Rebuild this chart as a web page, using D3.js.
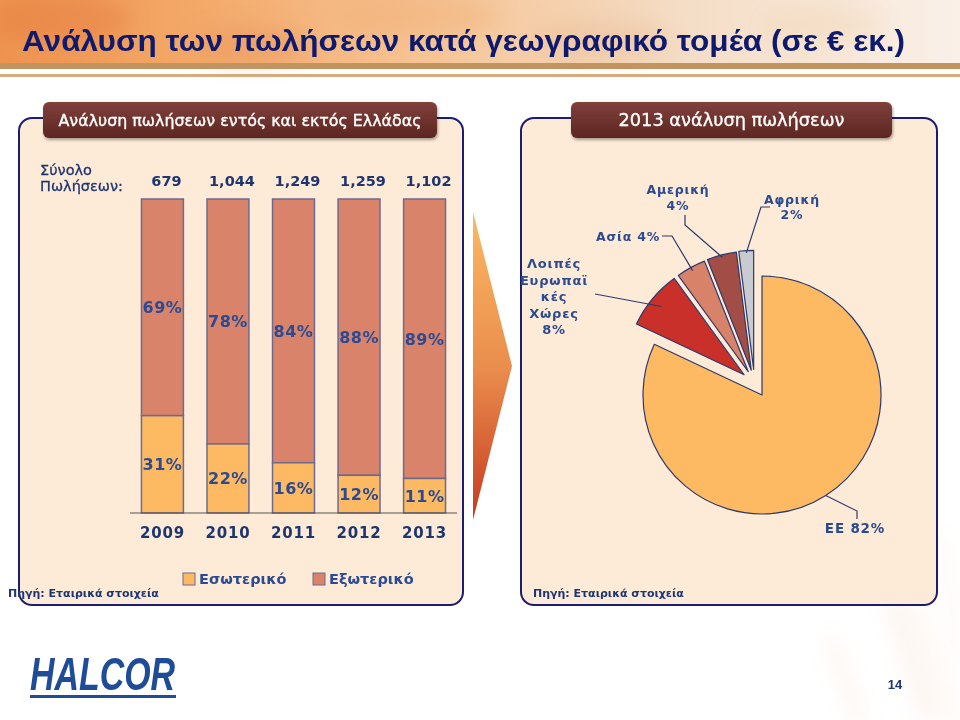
<!DOCTYPE html>
<html><head><meta charset="utf-8">
<script src="https://cdn.jsdelivr.net/npm/d3@7"></script>
<style>html,body{margin:0;padding:0;background:#fff;}svg{display:block;}</style>
</head><body>
<svg id="c" width="960" height="720"></svg>
<script>
// ---- data ----
const years = ["2009", "2010", "2011", "2012", "2013"];
const totals = [679, 1044, 1249, 1259, 1102];
const domestic = [31, 22, 16, 12, 11];
const exportsShare = [69, 78, 84, 88, 89];
const seriesNames = ["Εσωτερικό", "Εξωτερικό"];
const pieNames = ["ΕΕ", "Λοιπές Ευρωπαϊκές Χώρες", "Ασία", "Αμερική", "Αφρική"];
const pieValues = [82, 8, 4, 4, 2];

const svg = d3.select("#c");
const defs = svg.append("defs");
const navy = "#2B4A92";
const dark = "#1E3570";

// ---- background ----
const bg = defs.append("linearGradient").attr("id", "ban").attr("x1", 0).attr("x2", 1).attr("y1", 0).attr("y2", 0);
[[0, "#EE9450"], [0.2, "#F3A868"], [0.45, "#F6C596"], [0.7, "#F4DCC4"], [1, "#FAF0E8"]]
  .forEach(s => bg.append("stop").attr("offset", s[0]).attr("stop-color", s[1]));
svg.append("rect").attr("x", 0).attr("y", 0).attr("width", 960).attr("height", 66).attr("fill", "url(#ban)");
const blur = defs.append("filter").attr("id", "bl").attr("x", "-50%").attr("y", "-50%").attr("width", "200%").attr("height", "200%");
blur.append("feGaussianBlur").attr("stdDeviation", 10);
const blobs = [[60, 20, 70, 25, "#E88040", 0.5], [250, 45, 60, 18, "#E8905A", 0.4], [420, 15, 80, 20, "#F0A870", 0.35], [600, 40, 70, 20, "#E8B890", 0.35], [820, 25, 60, 20, "#F0D0B0", 0.35]];
svg.append("g").attr("filter", "url(#bl)").selectAll("ellipse").data(blobs).join("ellipse")
  .attr("cx", d => d[0]).attr("cy", d => d[1]).attr("rx", d => d[2]).attr("ry", d => d[3])
  .attr("fill", d => d[4]).attr("opacity", d => d[5]);
svg.append("rect").attr("x", 0).attr("y", 63).attr("width", 960).attr("height", 6).attr("fill", "#C29460");
svg.append("rect").attr("x", 0).attr("y", 74).attr("width", 960).attr("height", 3).attr("fill", "#D6AC7C");
// faint streaks bottom right
const streaks = [[880, 560, 930, 720, 12], [915, 600, 955, 720, 7], [940, 540, 960, 660, 5], [830, 640, 860, 720, 8]];
svg.append("g").attr("filter", "url(#bl)").selectAll("line").data(streaks).join("line")
  .attr("x1", d => d[0]).attr("y1", d => d[1]).attr("x2", d => d[2]).attr("y2", d => d[3])
  .attr("stroke", "#F2C0A0").attr("stroke-width", d => d[4]).attr("opacity", 0.25);

// title
svg.append("text").attr("x", 22).attr("y", 51)
  .attr("font-family", "Liberation Sans, Arial, sans-serif").attr("font-weight", "bold").attr("font-size", 29.5)
  .attr("fill", "#0E1A6E").attr("textLength", 883).attr("lengthAdjust", "spacingAndGlyphs")
  .text("Ανάλυση των πωλήσεων κατά γεωγραφικό τομέα (σε € εκ.)");

// ---- panels ----
const hg = defs.append("linearGradient").attr("id", "hdr").attr("x1", 0).attr("x2", 0).attr("y1", 0).attr("y2", 1);
hg.append("stop").attr("offset", 0).attr("stop-color", "#80403A");
hg.append("stop").attr("offset", 1).attr("stop-color", "#5C2622");
const sh = defs.append("filter").attr("id", "sh").attr("x", "-10%").attr("y", "-20%").attr("width", "120%").attr("height", "160%");
sh.append("feDropShadow").attr("dx", 1).attr("dy", 2).attr("stdDeviation", 1.5).attr("flood-color", "#000").attr("flood-opacity", 0.35);

function panel(x, y, w, h, hx, hw, title, fs, tl) {
  svg.append("rect").attr("x", x).attr("y", y).attr("width", w).attr("height", h).attr("rx", 13)
    .attr("fill", "#FDEBD7").attr("stroke", "#1C1C70").attr("stroke-width", 2);
  svg.append("rect").attr("x", hx).attr("y", 102).attr("width", hw).attr("height", 36).attr("rx", 6)
    .attr("fill", "url(#hdr)").attr("filter", "url(#sh)");
  svg.append("text").attr("x", hx + hw / 2).attr("y", 126).attr("text-anchor", "middle")
    .attr("font-family", "DejaVu Sans, Verdana, sans-serif").attr("font-size", fs).attr("fill", "#fff")
    .attr("stroke", "#fff").attr("stroke-width", 0.35)
    .attr("textLength", tl).attr("lengthAdjust", "spacingAndGlyphs")
    .text(title);
}
panel(19, 118, 444, 487, 43, 394, "Ανάλυση πωλήσεων εντός και εκτός Ελλάδας", 15.5, 363);
panel(521, 118, 416, 487, 571, 321, "2013 ανάλυση πωλήσεων", 17.5, 226);

// ---- arrow ----
const ag = defs.append("linearGradient").attr("id", "arr").attr("x1", 0).attr("x2", 0).attr("y1", 0).attr("y2", 1);
ag.append("stop").attr("offset", 0).attr("stop-color", "#FAB862");
ag.append("stop").attr("offset", 0.5).attr("stop-color", "#EA8E4E");
ag.append("stop").attr("offset", 1).attr("stop-color", "#C63A20");
svg.append("path").attr("d", "M473,212 L512,366 L473,520 Z").attr("fill", "url(#arr)");

// ---- stacked bars ----
const x = d3.scaleBand().domain(years).range([130, 457]).paddingInner(0.36).paddingOuter(0.175);
const y = d3.scaleLinear().domain([0, 100]).range([513, 199]);
const cDom = "#FDBA63", cExp = "#D9846A";
const font = "DejaVu Sans, Verdana, sans-serif";

const rows = years.map((yr, i) => ({ yr, dom: domestic[i], exp: exportsShare[i], tot: totals[i] }));
const gb = svg.append("g");
gb.selectAll("rect.exp").data(rows).join("rect").attr("class", "exp")
  .attr("x", d => x(d.yr)).attr("width", x.bandwidth())
  .attr("y", d => y(d.dom + d.exp)).attr("height", d => y(d.dom) - y(d.dom + d.exp))
  .attr("fill", cExp).attr("stroke", "#6E6A8E").attr("stroke-width", 1.5);
gb.selectAll("rect.dom").data(rows).join("rect").attr("class", "dom")
  .attr("x", d => x(d.yr)).attr("width", x.bandwidth())
  .attr("y", d => y(d.dom)).attr("height", d => y(0) - y(d.dom))
  .attr("fill", cDom).attr("stroke", "#6E6A8E").attr("stroke-width", 1.5);

const lab = (sel) => sel.attr("font-family", font).attr("font-weight", "bold").attr("fill", navy).attr("text-anchor", "middle");
gb.selectAll("text.pe").data(rows).join("text").attr("class", "pe").call(lab)
  .attr("font-size", 16).attr("letter-spacing", 0.5).attr("x", d => x(d.yr) + x.bandwidth() / 2)
  .attr("y", d => (y(d.dom) + y(d.dom + d.exp)) / 2 + 6).text(d => d.exp + "%");
gb.selectAll("text.pd").data(rows).join("text").attr("class", "pd").call(lab)
  .attr("font-size", 16).attr("letter-spacing", 0.5).attr("x", d => x(d.yr) + x.bandwidth() / 2)
  .attr("y", d => (y(0) + y(d.dom)) / 2 + 6).text(d => d.dom + "%");
gb.selectAll("text.tot").data(rows).join("text").attr("class", "tot").call(lab)
  .attr("fill", dark).attr("font-size", 14.5).attr("x", d => x(d.yr) + x.bandwidth() / 2 + 4)
  .attr("y", 186).text(d => d3.format(",")(d.tot));

// axis
const ax = svg.append("g").attr("transform", "translate(0,513)")
  .call(d3.axisBottom(x).tickSize(0).tickPadding(14));
ax.select(".domain").attr("d", "M130,0H457").attr("stroke", "#555").attr("stroke-width", 1.2);
ax.selectAll("text").attr("font-family", font).attr("font-weight", "bold").attr("font-size", 15)
  .attr("fill", dark).attr("letter-spacing", 0.8);

svg.append("text").attr("font-family", font).attr("font-size", 14.5).attr("fill", dark)
  .attr("stroke", dark).attr("stroke-width", 0.3)
  .selectAll("tspan").data(["Σύνολο", "Πωλήσεων:"]).join("tspan")
  .attr("x", 40).attr("y", (d, i) => 175 + i * 16).text(d => d);

// legend
const lg = svg.append("g").attr("transform", "translate(183,573)");
[[0, cDom], [130, cExp]].forEach((p, i) => {
  lg.append("rect").attr("x", p[0]).attr("y", 0).attr("width", 12).attr("height", 12)
    .attr("fill", p[1]).attr("stroke", "#6E6A8E").attr("stroke-width", 1);
  lg.append("text").attr("x", p[0] + 16).attr("y", 11).attr("font-family", font).attr("font-weight", "bold")
    .attr("font-size", 14.5).attr("fill", navy).text(seriesNames[i]);
});

const src = (xx) => svg.append("text").attr("x", xx).attr("y", 597).attr("font-family", font)
  .attr("font-weight", "bold").attr("font-size", 11).attr("fill", dark).text("Πηγή: Εταιρικά στοιχεία");
src(8); src(533);

// ---- pie ----
const cx = 762, cy = 395, R = 119;
const pie = d3.pie().sort(null).value(d => d)(pieValues);
const arc = d3.arc().innerRadius(0).outerRadius(R);
const pieCols = ["#FDBA63", "#C9302A", "#D9826A", "#A24E46", "#C9CBD3"];
const groupMid = (pie[1].startAngle + pie[4].endAngle) / 2;
function offset(d, i) {
  if (i === 0) return [0, 0];
  const a = (d.startAngle + d.endAngle) / 2;
  const ux = (Math.sin(a) + Math.sin(groupMid)) / 2, uy = (-Math.cos(a) - Math.cos(groupMid)) / 2;
  const n = Math.hypot(ux, uy);
  return [ux / n * 27, uy / n * 27];
}
const gp = svg.append("g").attr("transform", `translate(${cx},${cy})`);
gp.selectAll("path").data(pie).join("path")
  .attr("transform", (d, i) => `translate(${offset(d, i)})`)
  .attr("d", arc).attr("fill", (d, i) => pieCols[i])
  .attr("stroke", "#2C3A6E").attr("stroke-width", 1.2).attr("stroke-linejoin", "round");

function edge(i, rr) {
  const d = pie[i], a = (d.startAngle + d.endAngle) / 2, o = offset(d, i);
  return [cx + o[0] + Math.sin(a) * rr, cy + o[1] - Math.cos(a) * rr];
}
const leaders = [
  [[595, 294], edge(1, R * 0.9)],
  [[662, 236], [672, 236], edge(2, R * 0.97)],
  [[685, 215], [685, 225], edge(3, R * 0.98)],
  [[770, 207], [761, 207], edge(4, R * 0.98)],
  [edge(0, R * 1.0), [857, 511], [857, 519]]
];
svg.append("g").selectAll("path").data(leaders).join("path")
  .attr("d", d => d3.line()(d)).attr("fill", "none").attr("stroke", "#2C3A6E").attr("stroke-width", 1.2);

function plabel(lines, xx, yy, lh, anchor, size) {
  svg.append("text").attr("font-family", font).attr("font-weight", "bold").attr("font-size", size)
    .attr("fill", navy).attr("text-anchor", anchor).attr("letter-spacing", 0.8)
    .selectAll("tspan").data(lines).join("tspan").attr("x", xx).attr("y", (d, i) => yy + i * lh).text(d => d);
}
const pct = v => v + "%";
plabel(["Αμερική", pct(pieValues[3])], 678, 194, 16, "middle", 12.5);
plabel(["Αφρική", pct(pieValues[4])], 792, 204, 15, "middle", 12.5);
plabel([pieNames[2] + " " + pct(pieValues[2])], 628, 241, 16, "middle", 12.5);
plabel(["Λοιπές", "Ευρωπαϊ", "κές", "Χώρες", pct(pieValues[1])], 554, 268, 16.5, "middle", 13);
plabel([pieNames[0] + " " + pct(pieValues[0])], 855, 533, 16, "middle", 13.5);

// ---- logo & page number ----
svg.append("text").attr("x", 30).attr("y", 690).attr("font-family", "Liberation Sans, Arial, sans-serif")
  .attr("font-weight", "bold").attr("font-style", "italic").attr("font-size", 47).attr("fill", "#1F4C98")
  .attr("textLength", 145).attr("lengthAdjust", "spacingAndGlyphs").text("HALCOR");
svg.append("rect").attr("x", 30).attr("y", 695).attr("width", 146).attr("height", 3).attr("fill", "#1F4C98");
svg.append("text").attr("x", 895).attr("y", 689).attr("text-anchor", "middle").attr("font-family", "Liberation Sans, Arial, sans-serif")
  .attr("font-weight", "bold").attr("font-size", 13).attr("fill", dark).text("14");
</script>
</body></html>
